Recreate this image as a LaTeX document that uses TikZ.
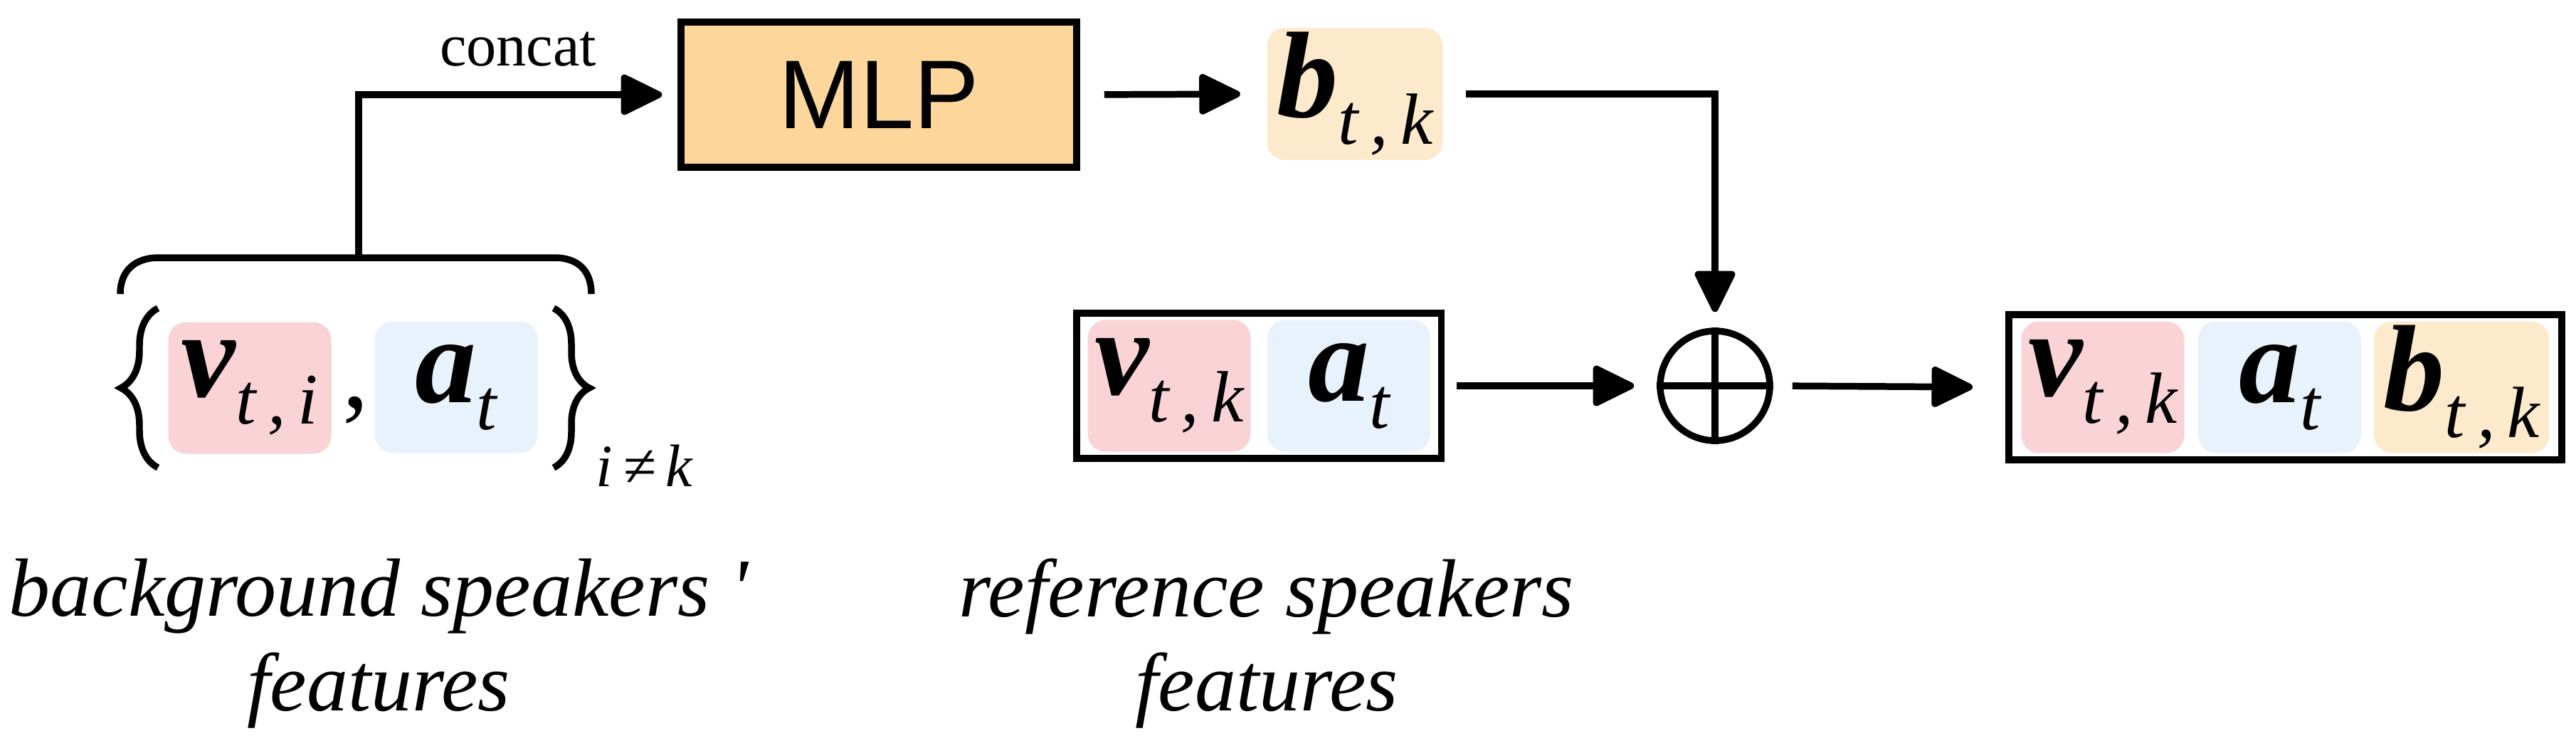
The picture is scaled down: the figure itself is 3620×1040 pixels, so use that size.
\documentclass[tikz,border=0pt]{standalone}
\usepackage{fontspec}
\setmainfont{Liberation Serif}
\newfontfamily\mlpfont{Liberation Sans}
\usetikzlibrary{positioning,arrows.meta,decorations.pathreplacing,fit}

\definecolor{vpink}{RGB}{249,211,214}
\definecolor{ablue}{RGB}{232,242,252}
\definecolor{mlporange}{RGB}{252,214,155}
\definecolor{borange}{RGB}{253,234,204}

% bold symbol with its subscript
\newcommand{\feat}[2]{{\fontsize{49}{50}\selectfont\bfseries\itshape #1}\raisebox{-0.38cm}{\fontsize{29}{30}\selectfont\itshape #2}}

\tikzset{
  thickline/.style={line width=2.7pt},
  arr/.style={thickline, -{Triangle[length=0.64cm,width=0.6cm,round]}},
  featbox/.style={fill=#1, rounded corners=0.25cm, minimum width=2.29cm, minimum height=1.85cm, inner sep=0pt},
  groupbox/.style={draw, thickline, inner xsep=0.15cm, inner ysep=0.09cm},
  captext/.style={font=\fontsize{33}{37.8}\selectfont\itshape, align=center, inner sep=0pt},
}

\begin{document}
\begin{tikzpicture}[x=0.1mm, y=-0.1mm]
\useasboundingbox (0,0) rectangle (3620,1040);
% top row:
\node[draw, thickline, fill=mlporange, minimum width=5.56cm, minimum height=2.04cm, font=\mlpfont\fontsize{39}{40}\selectfont] (mlp) at (1235,133) {MLP};
\node[featbox=borange, minimum width=2.47cm] (btop) at (1904,132) {\feat{b}{t\,,\,k}};

% background speakers:
\node[featbox=vpink] (vi) at (351,545) {\feat{v}{t\,,\,i}};
\node[featbox=ablue] (ai) at (641,544) {\feat{a}{t}};
\node[anchor=base, inner sep=0, font=\fontsize{42}{44}\selectfont] (comma) at (500,572) {,};
\draw[thickline, decorate, decoration={brace, amplitude=0.52cm}] (222,657) -- (222,433);
\draw[thickline, decorate, decoration={brace, amplitude=0.5cm}] (778,433) -- (778,657);
\node[anchor=base west, inner sep=0, font=\fontsize{24}{26}\selectfont\itshape] (cond) at (837,683) {i\,≠\,k};
\draw[thickline] (169,413) .. controls (169,380) and (190,362) .. (223,362) -- (779,362) .. controls (812,362) and (831,380) .. (831,413);
\coordinate (brtop) at (504,362);
\draw[arr, shorten >=0.22cm] (brtop) |- (mlp.west) node[pos=0.75, above=0.35cm, inner sep=0, font=\fontsize{24}{26}\selectfont] {concat};
\draw[arr, shorten <=0.34cm, shorten >=0.37cm] (mlp.east) -- (btop.west);

% reference speakers:
\node[featbox=vpink] (vk) at (1643,542) {\feat{v}{t\,,\,k}};
\node[featbox=ablue, right=0.22cm of vk] (ak) {\feat{a}{t}};
\node[groupbox, fit=(vk)(ak)] (refbox) {};

% sum:
\node[circle, draw, thickline, minimum size=1.54cm, inner sep=0] (sum) at (2410,542) {};
\draw[thickline] (sum.north) -- (sum.south) (sum.west) -- (sum.east);
\draw[arr, shorten <=0.32cm, shorten >=0.22cm] (btop.east) -| (sum.north);
\draw[arr, shorten <=0.17cm, shorten >=0.32cm] (refbox.east) -- (sum.west);

% output:
\node[featbox=vpink] (vout) at (2955,544) {\feat{v}{t\,,\,k}};
\node[featbox=ablue, right=0.18cm of vout] (aout) {\feat{a}{t}};
\node[featbox=borange, minimum width=2.46cm, right=0.17cm of aout] (bout) {\feat{b}{t\,,\,k}};
\node[groupbox, inner xsep=0.17cm, fit=(vout)(aout)(bout)] (outbox) {};
\draw[arr, shorten <=0.27cm, shorten >=0.46cm] (sum.east) -- (outbox.west);

% captions:
\node[captext] (bgcap) at (532,904) {background speakers \textquotesingle\\features};
\node[captext] (refcap) at (1780,904) {reference speakers\\features};
\end{tikzpicture}
\end{document}
